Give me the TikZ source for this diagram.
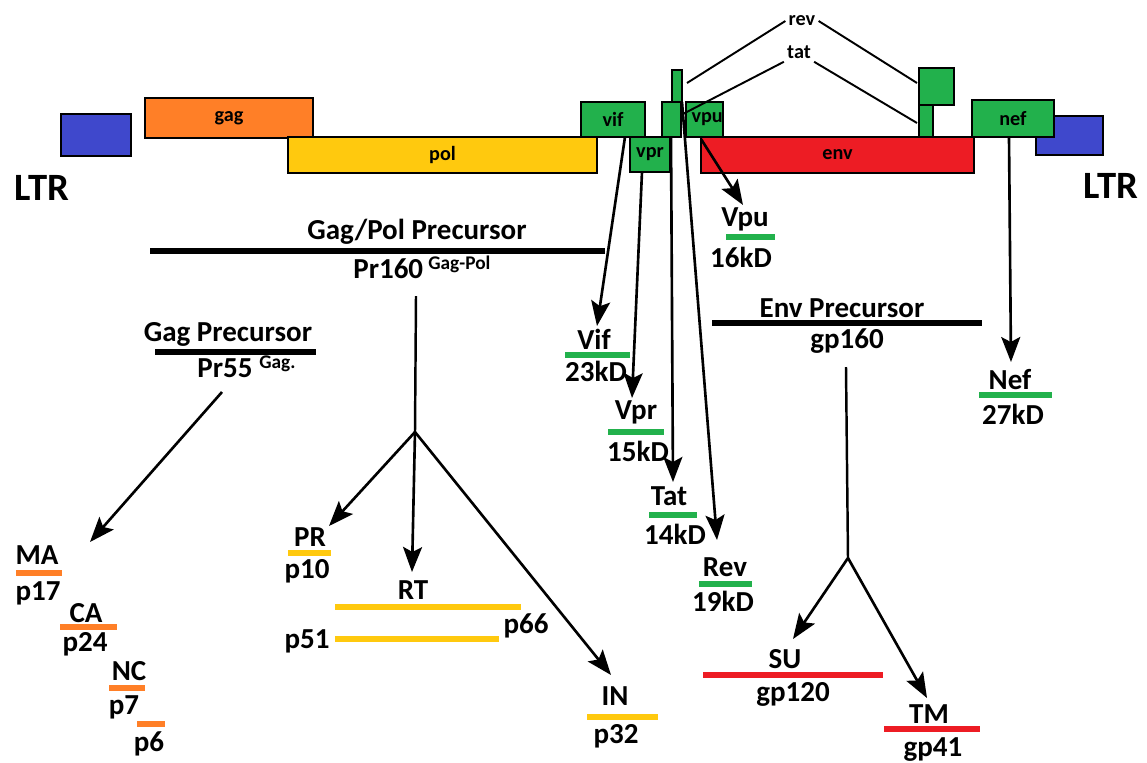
\documentclass[tikz,border=0pt]{standalone}
\usepackage{fontspec}
\setmainfont{Carlito}
\usepackage{tikz}
\usetikzlibrary{arrows.meta}

\definecolor{ltrblue}{RGB}{63,72,204}
\definecolor{gagorange}{RGB}{255,127,39}
\definecolor{polyellow}{RGB}{255,201,14}
\definecolor{accgreen}{RGB}{34,177,76}
\definecolor{envred}{RGB}{237,28,36}

\begin{document}
\begin{tikzpicture}[x=0.02cm, y=-0.02cm,
        sz/.style 2 args={minimum width=#1*0.02cm, minimum height=#2*0.02cm},
        gene/.style={draw=black, line width=1.1pt, inner sep=0pt, font=\fontsize{11.5}{13}\selectfont\bfseries},
        splice/.style={inner sep=0.06cm, font=\fontsize{11.5}{13}\selectfont\bfseries},
        ltr/.style={inner sep=0pt, font=\fontsize{22}{24}\selectfont\bfseries},
        prot/.style={inner sep=0pt, font=\fontsize{16.5}{18}\selectfont\bfseries},
        supr/.style={inner sep=0pt, font=\fontsize{11}{12}\selectfont\bfseries},
        bar/.style={line width=0.11cm},
        link/.style={line width=1.1pt},
        arr/.style={-{Stealth[length=0.5cm,width=0.38cm,inset=0.1cm]}, line width=1.5pt}]

        \useasboundingbox (0,0) rectangle (1147,762);

        % Genome
        \node[gene, fill=ltrblue, sz={70}{42}] (ltrL) at (96,135) {};
        \node[gene, fill=gagorange, sz={168}{40}] (gag) at (229,118) {gag};
        \node[gene, fill=polyellow, sz={309}{36}] (pol) at (442.5,155) {pol\hspace{18pt}};
        \node[gene, fill=accgreen, sz={64}{35}] (vif) at (613,119.5) {vif};
        \node[gene, fill=accgreen, sz={40}{35}] (vpr) at (650,154.5) {vpr};
        \node[gene, fill=accgreen, sz={10}{32}] (rev1) at (677,86) {};
        \node[gene, fill=accgreen, sz={19}{35}] (tat1) at (671.5,119.5) {};
        \node[gene, fill=envred, sz={273}{36}] (env) at (837.5,155) {env};
        \node[gene, fill=accgreen, sz={37}{35}] (vpu) at (704.5,119.5) {\hspace{3pt}vpu};
        \node[gene, fill=accgreen, sz={35}{37}] (rev2) at (936.5,86.5) {};
        \node[gene, fill=accgreen, sz={14}{32}] (tat2) at (926,121) {};
        \node[gene, fill=ltrblue, sz={67}{39}] (ltrR) at (1069.5,135.5) {};
        \node[gene, fill=accgreen, sz={82}{37}] (nef) at (1013,118.5) {nef};

        \node[ltr] (ltrLlbl) at (42,188) {LTR};
        \node[ltr] (ltrRlbl) at (1111,186) {LTR};

        % Splicing of rev and tat
        \node[splice] (revlbl) at (802,21) {rev};
        \node[splice] (tatlbl) at (799,52) {tat};
        \coordinate (revA) at (687,83);
        \coordinate (revB) at (917,83);
        \coordinate (tatA) at (681,115);
        \coordinate (tatB) at (917,123);
        \draw[link] (revlbl.west) -- (revA);
        \draw[link] (revlbl.east) -- (revB);
        \draw[link] (tatlbl.south west) -- (tatA);
        \draw[link] (tatlbl.south east) -- (tatB);

        % Gag/Pol Precursor
        \node[prot] (gagpol) at (417,232) {Gag/Pol Precursor};
        \draw[bar] (150,251) -- (605,251);
        \node[prot, anchor=base west] (pr160) at (353,278) {Pr160};
        \node[supr, anchor=base west] (pr160sup) at (428,269) {Gag-Pol};
        \coordinate (gpTop) at (416,296);
        \coordinate (gpFork) at (415,432);
        \draw[link, line width=1.4pt] (gpTop) -- (gpFork);

        % Gag Precursor
        \node[prot] (gagpre) at (228,334) {Gag Precursor};
        \draw[bar] (155,352) -- (316,352);
        \node[prot, anchor=base west] (pr55) at (197,377) {Pr55};
        \node[supr, anchor=base west] (pr55sup) at (259,368) {Gag.};
        \coordinate (gagTop) at (222,392);

        % Env Precursor
        \node[prot] (envpre) at (842,308) {Env Precursor};
        \draw[bar] (712,323) -- (982,323);
        \node[prot] (gp160) at (847,341) {gp160};
        \coordinate (envTop) at (846,367);
        \coordinate (envFork) at (848,558);
        \draw[link, line width=1.4pt] (envTop) -- (envFork);

        % Gag products
        \node[prot] (ma) at (37,555) {MA};
        \draw[bar, gagorange] (16,573) -- (62,573);
        \node[prot] (p17) at (38,593) {p17};
        \node[prot] (ca) at (86,613) {CA};
        \draw[bar, gagorange] (60,627) -- (117,627);
        \node[prot] (p24) at (85,644) {p24};
        \node[prot] (nc) at (129,671) {NC};
        \draw[bar, gagorange] (109,688) -- (145,688);
        \node[prot] (p7) at (124,707) {p7};
        \draw[bar, gagorange] (137,724) -- (165,724);
        \node[prot] (p6) at (149,744) {p6};

        % Pol products
        \node[prot] (pr) at (310,537) {PR};
        \draw[bar, polyellow] (288,553) -- (331,553);
        \node[prot] (p10) at (307,571) {p10};
        \node[prot] (rt) at (413,590) {RT};
        \draw[bar, polyellow] (335,607) -- (521,607);
        \node[prot] (p66) at (526,626) {p66};
        \draw[bar, polyellow] (335,639) -- (499,639);
        \node[prot] (p51) at (307,641) {p51};
        \node[prot] (in) at (615,696) {IN};
        \draw[bar, polyellow] (587,717) -- (658,717);
        \node[prot] (p32) at (616,736) {p32};

        % Accessory and regulatory proteins
        \node[prot] (vifp) at (594,339) {Vif};
        \draw[bar, accgreen] (565,355) -- (630,355);
        \node[prot] (vifkd) at (596,371) {23kD};
        \node[prot] (vprp) at (636,412) {Vpr};
        \draw[bar, accgreen] (608,432) -- (664,432);
        \node[prot] (vprkd) at (638,451) {15kD};
        \node[prot] (tatp) at (669,496) {Tat};
        \draw[bar, accgreen] (649,515) -- (697,515);
        \node[prot] (tatkd) at (675,534) {14kD};
        \node[prot] (revp) at (725,567) {Rev};
        \draw[bar, accgreen] (699,584) -- (752,584);
        \node[prot] (revkd) at (723,601) {19kD};
        \node[prot] (vpup) at (745,219) {Vpu};
        \draw[bar, accgreen] (726,237) -- (775,237);
        \node[prot] (vpukd) at (741,257) {16kD};
        \node[prot] (nefp) at (1010,380) {Nef};
        \draw[bar, accgreen] (979,395) -- (1052,395);
        \node[prot] (nefkd) at (1013,414) {27kD};

        % Env products
        \node[prot] (su) at (785,659) {SU};
        \draw[bar, envred] (703,675) -- (883,675);
        \node[prot] (gp120) at (793,694) {gp120};
        \node[prot] (tm) at (929,714) {TM};
        \draw[bar, envred] (884,729) -- (980,729);
        \node[prot] (gp41) at (933,750) {gp41};

        % Arrows from the genes
        \coordinate (vifOut) at (625,137);
        \coordinate (vprOut) at (642,172);
        \coordinate (tatOut) at (671,137);
        \coordinate (revOut) at (682,102);
        \coordinate (vpuOut) at (701,139);
        \coordinate (nefOut) at (1009,137);
        \coordinate (vifTip) at (597,326);
        \coordinate (vprTip) at (632,398);
        \coordinate (tatTip) at (673,482);
        \coordinate (revTip) at (717,540);
        \coordinate (vpuTip) at (743,205);
        \coordinate (nefTip) at (1011,362);
        \draw[arr] (vifOut) -- (vifTip);
        \draw[arr] (vprOut) -- (vprTip);
        \draw[arr] (tatOut) -- (tatTip);
        \draw[arr] (revOut) -- (revTip);
        \draw[arr] (vpuOut) -- (vpuTip);
        \draw[arr] (nefOut) -- (nefTip);

        % Arrows to the cleavage products
        \coordinate (maTip) at (90,542);
        \coordinate (prTip) at (329,526);
        \coordinate (rtTip) at (412,572);
        \coordinate (inTip) at (611,675);
        \coordinate (suTip) at (793,639);
        \coordinate (tmTip) at (927,698);
        \draw[arr] (gagTop) -- (maTip);
        \draw[arr] (gpFork) -- (prTip);
        \draw[arr] (gpFork) -- (rtTip);
        \draw[arr] (gpFork) -- (inTip);
        \draw[arr] (envFork) -- (suTip);
        \draw[arr] (envFork) -- (tmTip);
\end{tikzpicture}
\end{document}
